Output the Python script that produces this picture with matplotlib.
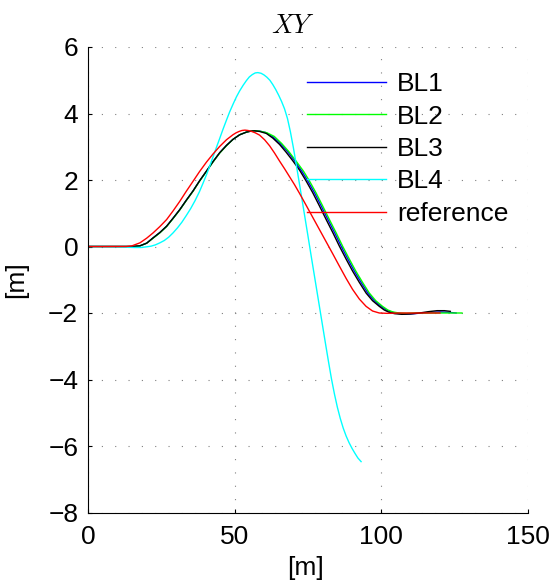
import matplotlib
matplotlib.use("Agg")
import matplotlib.pyplot as plt

plt.rcParams['font.family'] = ['Liberation Sans', 'DejaVu Sans']
plt.rcParams['mathtext.fontset'] = 'cm'

# ---------------- data ----------------
bl3_x = [0, 10, 15, 17.7, 20, 22.2, 24.5, 26.8, 29, 31.3, 33.5, 35.8, 38, 40.4, 42.6,
         44.9, 47.2, 49.4, 51.7, 54.0, 55.5, 56.8, 58.5, 60.8, 63, 65.3, 67.5, 69.8, 72.1,
         74.3, 76.6, 78.9, 81.2, 83.5, 85.7, 88, 90.2, 92.5, 94.8, 97, 99.3, 101,
         102.7, 104.5, 107, 110, 113, 116, 119, 121.5, 123.5]
bl3_y = [0, 0, 0, 0.02, 0.1, 0.26, 0.42, 0.61, 0.85, 1.11, 1.39, 1.67, 1.97, 2.27, 2.55,
         2.82, 3.04, 3.22, 3.36, 3.44, 3.47, 3.48, 3.46, 3.40, 3.26, 3.07, 2.84, 2.58, 2.30,
         1.98, 1.62, 1.22, 0.81, 0.41, 0.01, -0.38, -0.74, -1.08, -1.40, -1.63, -1.80, -1.91,
         -1.98, -2.02, -2.04, -2.03, -2.0, -1.96, -1.93, -1.93, -1.95]

bl1_x = [0, 10, 15, 17.7, 20, 22.2, 24.5, 26.8, 29, 31.3, 33.5, 35.8, 38, 40.4, 42.6,
         44.9, 47.2, 49.4, 51.7, 54.0, 55.5, 56.8, 58.5, 60.5, 63, 65.5, 68, 70.5, 73, 75,
         77.2, 79.5, 81.8, 84.1, 86.3, 88.6, 90.8, 93.1, 95.4, 97.6, 99.9, 101.7, 103.4,
         105.5, 108, 111, 114, 117, 120, 123, 125.5]
bl1_y = [0, 0, 0, 0.02, 0.1, 0.26, 0.42, 0.61, 0.85, 1.11, 1.39, 1.67, 1.97, 2.27, 2.55,
         2.82, 3.04, 3.22, 3.36, 3.44, 3.47, 3.48, 3.47, 3.43, 3.30, 3.10, 2.86, 2.57, 2.25, 1.96,
         1.62, 1.22, 0.81, 0.41, 0.01, -0.38, -0.74, -1.08, -1.40, -1.63, -1.80, -1.91, -1.97,
         -2.01, -2.03, -2.02, -2.0, -1.98, -1.97, -1.98, -2.0]

bl2_x = [0, 10, 15, 17.7, 20, 22.2, 24.5, 26.8, 29, 31.3, 33.5, 35.8, 38, 40.4, 42.6,
         44.9, 47.2, 49.4, 51.7, 54.0, 55.5, 56.8, 58.5, 61, 63.5, 66, 68.5, 71, 73.5, 75.5,
         77.7, 80, 82.3, 84.6, 86.8, 89.1, 91.3, 93.6, 95.9, 98.1, 100.4, 102.2, 104,
         106, 108.5, 111, 114, 117, 120, 124, 127.5]
bl2_y = [0, 0, 0, 0.02, 0.1, 0.25, 0.41, 0.60, 0.84, 1.10, 1.38, 1.66, 1.96, 2.26, 2.54,
         2.81, 3.03, 3.22, 3.36, 3.44, 3.47, 3.48, 3.47, 3.42, 3.31, 3.10, 2.85, 2.56, 2.26, 1.97,
         1.62, 1.22, 0.81, 0.41, 0.01, -0.38, -0.74, -1.08, -1.40, -1.63, -1.80, -1.91, -1.97,
         -2.0, -2.01, -2.0, -2.0, -2.0, -2.0, -2.0, -2.0]

bl4_x = [0, 5, 10, 13, 16, 18, 20, 21.5, 23, 24.5, 26, 27.5, 29, 30.5, 32, 33.5, 35, 36.5,
         38, 39.2, 40.4, 41.5, 42.6, 43.7, 44.9, 46, 47.2, 48.3, 49.5, 50.6, 51.7, 52.9,
         54, 55, 56, 57, 57.9, 59, 60, 61, 62, 63, 64, 65, 66, 67, 68, 69, 70, 71, 72,
         73, 74, 75, 76, 77, 78, 79, 80, 81, 82, 83, 84, 85, 86, 87, 88, 89, 90, 91, 92, 93.1]
bl4_y = [0, 0, -0.01, -0.02, -0.03, -0.03, -0.01, 0.01, 0.05, 0.11, 0.18, 0.28, 0.41, 0.56,
         0.73, 0.93, 1.14, 1.38, 1.65, 1.90, 2.16, 2.42, 2.69, 2.96, 3.25, 3.52, 3.80, 4.05,
         4.29, 4.50, 4.68, 4.85, 4.99, 5.10, 5.17, 5.22, 5.23, 5.21, 5.16, 5.09, 5.0, 4.87,
         4.72, 4.55, 4.36, 4.14, 3.85, 3.45, 2.98, 2.46, 1.93, 1.39, 0.85, 0.31, -0.24,
         -0.78, -1.32, -1.86, -2.40, -2.94, -3.47, -3.98, -4.43, -4.83, -5.17, -5.46, -5.70,
         -5.90, -6.07, -6.22, -6.36, -6.47]

ref_x = [0, 10, 13, 15, 17.7, 20, 22.2, 24.5, 26.8, 29, 31.3, 33.5, 35.8, 38, 40.4, 42.6,
         44.9, 47.2, 49.4, 50.5, 51.5, 52.5, 53.5, 54.5, 55.5, 57, 58.5, 60.2, 61.9, 63.6,
         65.3, 67, 68.7, 70.4, 72.1, 74.3, 76.6, 78.9, 81.2, 83.5, 85.7, 88, 90.2, 92.5,
         94.8, 97, 99.3, 102, 106, 110, 115, 120]
ref_y = [0, 0, 0, 0.02, 0.11, 0.25, 0.41, 0.60, 0.81, 1.07, 1.36, 1.66, 1.96, 2.25, 2.54,
         2.78, 3.01, 3.21, 3.36, 3.42, 3.46, 3.49, 3.50, 3.49, 3.47, 3.42, 3.35, 3.21, 3.03,
         2.81, 2.57, 2.34, 2.10, 1.86, 1.60, 1.25, 0.88, 0.51, 0.14, -0.23, -0.59, -0.96,
         -1.29, -1.58, -1.80, -1.94, -2.0, -2.01, -2.0, -2.0, -2.0, -2.0]

labels = ['BL1', 'BL2', 'BL3', 'BL4', 'reference']
x_ticks = [0, 50, 100, 150]
y_ticks = [-8, -6, -4, -2, 0, 2, 4, 6]

# ---------------- figure ----------------
fig = plt.figure(figsize=(5.51, 5.81), dpi=100)
ax = fig.add_axes([88/551, 1 - 512.5/581, 440/551, 465.5/581])

series = [(bl1_x, bl1_y, (0, 0, 1)),
          (bl2_x, bl2_y, (0, 1, 0)),
          (bl3_x, bl3_y, (0, 0, 0)),
          (bl4_x, bl4_y, (0, 1, 1)),
          (ref_x, ref_y, (1, 0, 0))]
for (xs, ys, c), lab in zip(series, labels):
    ax.plot(xs, ys, color=c, lw=1.0, label=lab, solid_joinstyle='round')

ax.set_xlim(0, 150)
ax.set_ylim(-8, 6)
ax.set_xticks(x_ticks)
ax.set_yticks(y_ticks)
ax.grid(True, color='#808080', linestyle=(0, (1, 11)), linewidth=0.8)
for s in ['top', 'right']:
    ax.spines[s].set_visible(False)
for s in ['left', 'bottom']:
    ax.spines[s].set_linewidth(0.8)
ax.tick_params(direction='in', length=3, width=0.8, labelsize=19)
ax.tick_params(axis='x', pad=9)
ax.tick_params(axis='y', pad=7)

ax.set_xlabel('[m]', fontsize=19)
ax.set_ylabel('[m]', fontsize=19)
ax.xaxis.set_label_coords(0.495, -(556 - 512.5) / 465.5)
ax.yaxis.set_label_coords(-(88 - 28) / 440, 0.5)
ax.text(0.466, 1.030, '$XY$', transform=ax.transAxes, ha='center', va='baseline',
        fontsize=19)

leg = ax.legend(loc='upper left', bbox_to_anchor=(0.498, 0.946), frameon=False,
                fontsize=19, handlelength=3.0, handletextpad=0.4,
                labelspacing=0.32, borderpad=0, borderaxespad=0)

fig.savefig('out.png', dpi=100)
